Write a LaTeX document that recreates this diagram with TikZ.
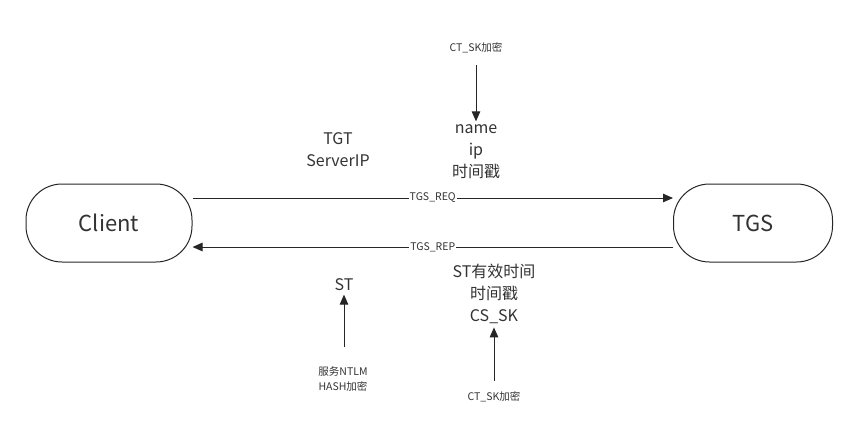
\documentclass[tikz,border=0pt]{standalone}
\usepackage{fontspec}
\setmainfont{Noto Sans CJK SC}
\usetikzlibrary{arrows.meta}
\begin{document}
\begin{tikzpicture}[
                x=1pt, y=-1pt,
                party/.style={rectangle,rounded corners=36pt,draw=black!85,line width=1pt,minimum width=166pt,minimum height=78pt,font=\fontsize{22}{26}\selectfont,text=black!80},
                info/.style={align=center,font=\fontsize{16}{22}\selectfont,text=black!80},
                note/.style={align=center,font=\fontsize{10.5}{15}\selectfont,text=black!80},
                msg/.style={draw=black!85,line width=1pt,-{Triangle[length=10pt,width=8.5pt]}},
                tag/.style={fill=white,inner sep=1pt,font=\fontsize{10.5}{12}\selectfont,text=black!80},
            ]
            \useasboundingbox (0,0) rectangle (857,442);

            % Define nodes
            \node[party] (Client) at (109,223) {Client};
            \node[party,minimum width=159pt] (TGS) at (753,223) {TGS};
            \node[info] (ReqData) at (338,150) {TGT\\ServerIP};
            \node[info] (ReqStamp) at (476,152) {name\\ip\\时间戳};
            \node[note] (ReqKey) at (476,48) {CT\_SK加密};
            \node[info] (St) at (344,285) {ST};
            \node[note] (StKey) at (343,379) {服务NTLM\\HASH加密};
            \node[info] (RepData) at (494,294) {ST有效时间\\时间戳\\CS\_SK};
            \node[note] (RepKey) at (494,397) {CT\_SK加密};

            % Free ends of the key arrows
            \coordinate (ReqKeyEnd) at (476,65);
            \coordinate (StKeyEnd) at (344,347);
            \coordinate (RepKeyEnd) at (494,381);

            % Draw connections
            \draw[msg] (Client.east |- 0,198) -- (TGS.west |- 0,198) node[midway,tag] {TGS\_REQ};
            \draw[msg] (TGS.west |- 0,247) -- (Client.east |- 0,247) node[midway,tag] {TGS\_REP};

            % Draw key arrows
            \draw[msg] (ReqKeyEnd) -- (ReqStamp.north);
            \draw[msg] (StKeyEnd) -- (St.south);
            \draw[msg] (RepKeyEnd) -- (RepData.south);

            \end{tikzpicture}
\end{document}
